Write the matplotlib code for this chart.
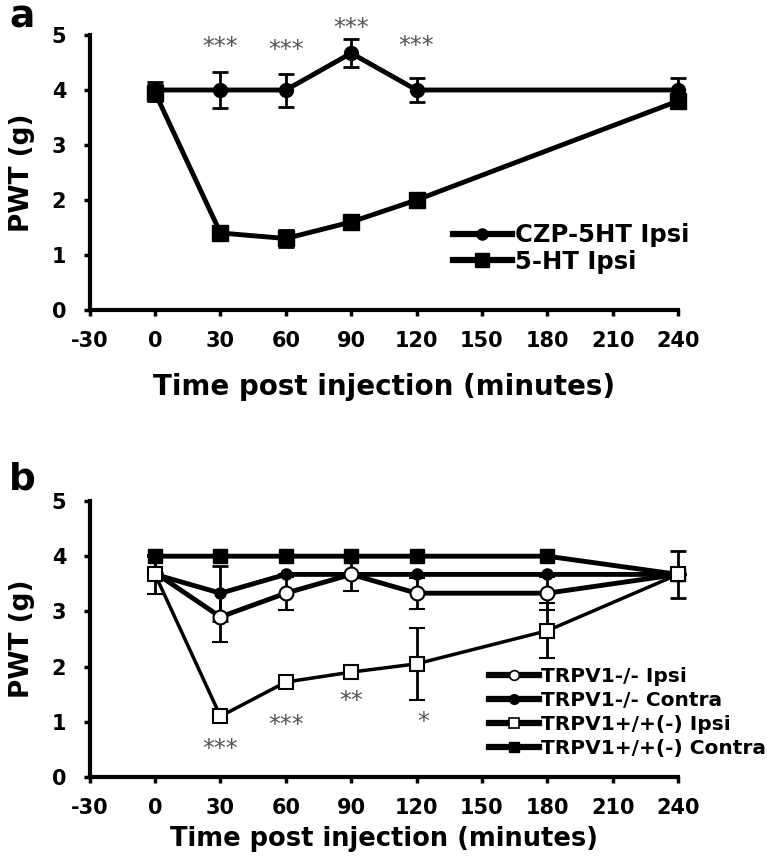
import matplotlib.pyplot as plt
from matplotlib.lines import Line2D

# panel a data
times_a = [0, 30, 60, 90, 120, 240]
czp_ipsi = [4.0, 4.0, 4.0, 4.67, 4.0, 4.0]
czp_err = [0.15, 0.33, 0.3, 0.25, 0.22, 0.22]
ht_ipsi = [3.95, 1.4, 1.3, 1.6, 2.0, 3.8]
ht_err = [0.15, 0.1, 0.15, 0.1, 0.12, 0.1]
stars_a_x = [30, 60, 90, 120]
stars_a_y = [4.78, 4.72, 5.12, 4.8]
stars_a = ['***', '***', '***', '***']

# panel b data
times_b = [0, 30, 60, 90, 120, 180, 240]
ko_ipsi = [3.7, 2.9, 3.33, 3.67, 3.33, 3.33, 3.67]
ko_ipsi_err = [0.0, 0.45, 0.3, 0.3, 0.28, 0.3, 0.0]
ko_contra = [3.67, 3.33, 3.67, 3.67, 3.67, 3.67, 3.67]
ko_contra_err = [0.0, 0.5, 0.0, 0.0, 0.0, 0.0, 0.0]
wt_ipsi = [3.67, 1.1, 1.72, 1.9, 2.05, 2.65, 3.67]
wt_ipsi_err = [0.35, 0.0, 0.0, 0.0, 0.65, 0.5, 0.0]
wt_contra = [4.0, 4.0, 4.0, 4.0, 4.0, 4.0, 3.67]
wt_contra_err = [0.0, 0.0, 0.0, 0.0, 0.0, 0.0, 0.42]
stars_b_x = [30, 60, 90, 123]
stars_b_y = [0.5, 0.95, 1.37, 1.0]
stars_b = ['***', '***', '**', '*']

xticks = [-30, 0, 30, 60, 90, 120, 150, 180, 210, 240]

plt.rcParams['font.family'] = 'DejaVu Sans'
plt.rcParams['font.weight'] = 'bold'
plt.rcParams['axes.unicode_minus'] = False

fig = plt.figure(figsize=(7.67, 8.58), dpi=100)
ax1 = fig.add_axes([0.117, 0.6387, 0.767, 0.3205])
ax2 = fig.add_axes([0.117, 0.0944, 0.767, 0.3217])


def style(ax):
    ax.set_xlim(-30, 240)
    ax.set_ylim(0, 5)
    ax.set_xticks(xticks)
    ax.set_yticks([0, 1, 2, 3, 4, 5])
    ax.spines['top'].set_visible(False)
    ax.spines['right'].set_visible(False)
    ax.spines['left'].set_linewidth(3)
    ax.spines['bottom'].set_linewidth(3)
    ax.tick_params(width=2.5, length=4, labelsize=15)
    ax.tick_params(axis='x', pad=11)
    ax.tick_params(axis='y', pad=13)
    for lab in ax.get_xticklabels() + ax.get_yticklabels():
        lab.set_fontweight('bold')
    ax.set_ylabel('PWT (g)', fontsize=19, fontweight='bold', labelpad=12)


# ---- panel a
ax1.errorbar(times_a, czp_ipsi, yerr=czp_err, color='black', lw=3.5, marker='o',
             ms=10, capsize=6, elinewidth=2, capthick=2, clip_on=False,
             zorder=3)
ax1.errorbar(times_a, ht_ipsi, yerr=ht_err, color='black', lw=3.5, marker='s',
             ms=11.5, capsize=6, elinewidth=2, capthick=2, clip_on=False,
             zorder=3)
for x, y, s in zip(stars_a_x, stars_a_y, stars_a):
    ax1.text(x, y, s, ha='center', va='center', fontsize=17, color='#555555',
             fontweight='normal', clip_on=False)
style(ax1)
ax1.set_xlabel('Time post injection (minutes)', fontsize=20, fontweight='bold',
               labelpad=16)
handles_a = [Line2D([], [], color='black', lw=4.5, marker='o', ms=8),
             Line2D([], [], color='black', lw=4.5, marker='s', ms=10)]
fig.legend(handles_a, ['CZP-5HT Ipsi', '5-HT Ipsi'], loc='center left',
           bbox_to_anchor=(0.575, 0.7104), frameon=False, borderpad=0,
           handlelength=2.4, handletextpad=0.15, labelspacing=0.1,
           prop={'weight': 'bold', 'size': 17.5})
fig.text(0.012, 1.0, 'a', fontsize=27, fontweight='bold', va='top')

# ---- panel b
ax2.errorbar(times_b, ko_ipsi, yerr=ko_ipsi_err, color='black', lw=3.5,
             marker='o', ms=10, mfc='white', mec='black', mew=1.5, capsize=6,
             elinewidth=2, capthick=2, clip_on=False, zorder=4)
ax2.errorbar(times_b, ko_contra, yerr=ko_contra_err, color='black', lw=3.5,
             marker='o', ms=8, capsize=6, elinewidth=2, capthick=2,
             clip_on=False, zorder=3)
ax2.errorbar(times_b, wt_ipsi, yerr=wt_ipsi_err, color='black', lw=2.5,
             marker='s', ms=10, mfc='white', mec='black', mew=1.5, capsize=6,
             elinewidth=2, capthick=2, clip_on=False, zorder=4)
ax2.errorbar(times_b, wt_contra, yerr=wt_contra_err, color='black', lw=3.5,
             marker='s', ms=10.5, capsize=6, elinewidth=2, capthick=2,
             clip_on=False, zorder=3)
for x, y, s in zip(stars_b_x, stars_b_y, stars_b):
    ax2.text(x, y, s, ha='center', va='center', fontsize=17, color='#555555',
             fontweight='normal')
style(ax2)
ax2.set_xlabel('Time post injection (minutes)', fontsize=18.5, fontweight='bold',
               labelpad=6)
handles_b = [Line2D([], [], color='black', lw=4.5, marker='o', ms=7,
                    mfc='white', mew=1.2),
             Line2D([], [], color='black', lw=4.5, marker='o', ms=7),
             Line2D([], [], color='black', lw=4.5, marker='s', ms=7,
                    mfc='white', mew=1.2),
             Line2D([], [], color='black', lw=4.5, marker='s', ms=7)]
fig.legend(handles_b, ['TRPV1-/- Ipsi', 'TRPV1-/- Contra', 'TRPV1+/+(-) Ipsi',
                       'TRPV1+/+(-) Contra'],
           loc='center left', bbox_to_anchor=(0.624, 0.1696), frameon=False,
           borderpad=0, handlelength=2.5, handletextpad=0.1, labelspacing=0.25,
           prop={'weight': 'bold', 'size': 14.5})
fig.text(0.012, 0.462, 'b', fontsize=27, fontweight='bold', va='top')

fig.savefig('out.png', dpi=100)
